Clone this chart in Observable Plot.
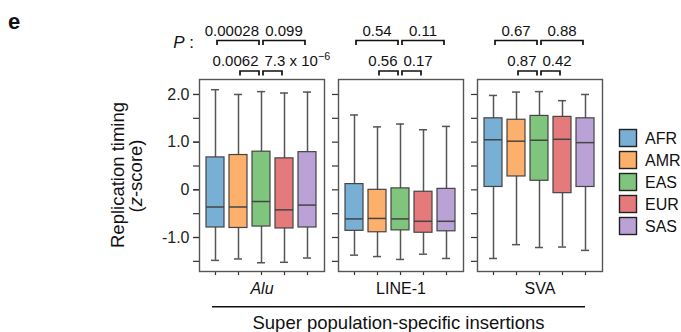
<!DOCTYPE html>
<html><head><meta charset="utf-8">
<script src="https://cdn.jsdelivr.net/npm/d3@7"></script>
<script src="https://cdn.jsdelivr.net/npm/@observablehq/plot@0.6"></script>
<style>
body{margin:0;background:#fff;}
#chart{position:relative;width:681px;height:332px;overflow:hidden;}
#chart svg{font-family:"Liberation Sans",Arial,sans-serif;overflow:visible;}
</style></head><body><div id="chart"></div>
<script>
// ---- data ----
const types = ["Alu", "LINE-1", "SVA"];
const pops = ["AFR", "AMR", "EAS", "EUR", "SAS"];
const colors = ["#78afd4", "#fdb06b", "#80c57e", "#e57a7d", "#bba2d6"];
// rows: Alu, LINE-1, SVA ; columns: AFR, AMR, EAS, EUR, SAS
const whiskerLow  = [[-1.48, -1.45, -1.53, -1.52, -1.43], [-1.37, -1.40, -1.46, -1.35, -1.44], [-1.44, -1.15, -1.21, -1.20, -1.27]];
const q1          = [[-0.79, -0.80, -0.77, -0.81, -0.79], [-0.86, -0.89, -0.85, -0.90, -0.87], [0.06, 0.28, 0.19, -0.07, 0.06]];
const median      = [[-0.36, -0.36, -0.245, -0.42, -0.32], [-0.61, -0.60, -0.61, -0.66, -0.66], [1.05, 1.02, 1.04, 1.06, 0.99]];
const q3          = [[0.68, 0.73, 0.80, 0.66, 0.79], [0.12, 0.00, 0.03, -0.04, 0.02], [1.50, 1.47, 1.55, 1.53, 1.50]];
const whiskerHigh = [[2.10, 2.00, 2.06, 2.03, 2.05], [1.57, 1.32, 1.38, 1.26, 1.33], [1.98, 2.05, 2.06, 1.87, 2.00]];
const yTicks = [-1.5, -1, -0.5, 0, 0.5, 1, 1.5, 2];
const yLabelTicks = [-1, 0, 1, 2];
const yTickLabels = ["-1.0", "0", "1.0", "2.0"];
const topPairs = [["AFR", "EAS"], ["EAS", "SAS"]];
const bottomPairs = [["AMR", "EAS"], ["EAS", "EUR"]];
const pTop = [["0.00028", "0.099"], ["0.54", "0.11"], ["0.67", "0.88"]];
const pBottom = [["0.0062", "7.3 x 10^−6"], ["0.56", "0.17"], ["0.87", "0.42"]];

// ---- table ----
const stats = [];
types.forEach((t, i) => pops.forEach((p, j) => stats.push({
  type: t, pop: p, low: whiskerLow[i][j], q1: q1[i][j], med: median[i][j], q3: q3[i][j], high: whiskerHigh[i][j]
})));

const FONT = '"Liberation Sans", Arial, sans-serif';
const plot = Plot.plot({
  width: 681, height: 332,
  marginLeft: 198, marginRight: 78, marginTop: 79, marginBottom: 61,
  style: {fontFamily: FONT, fontSize: "16px", color: "#222", background: "transparent"},
  fx: {domain: types, paddingInner: 0.1, paddingOuter: 0, axis: null, label: null},
  x: {domain: pops, paddingInner: 0.2, paddingOuter: 0.3, label: null},
  y: {domain: [-1.713, 2.314], label: null},
  color: {domain: pops, range: colors},
  marks: [
    Plot.axisY({ticks: yTicks, tickSize: 6, tickFormat: () => "", facetAnchor: null, stroke: "#333", strokeWidth: 1.2, label: null}),
    Plot.axisY({ticks: yLabelTicks, tickSize: 6, tickPadding: 4, tickFormat: d => yTickLabels[yLabelTicks.indexOf(d)], fontSize: 16, stroke: "#333", strokeWidth: 1.2, label: null}),
    Plot.axisX({ticks: pops, tickSize: 4, tickFormat: () => "", stroke: "#333", strokeWidth: 1.2, label: null}),
    Plot.ruleX(stats, {fx: "type", x: "pop", y1: "low", y2: "high", stroke: "#555", strokeWidth: 1.5}),
    Plot.tickY(stats, {fx: "type", x: "pop", y: "low", stroke: "#555", strokeWidth: 1.5, insetLeft: 5, insetRight: 5}),
    Plot.tickY(stats, {fx: "type", x: "pop", y: "high", stroke: "#555", strokeWidth: 1.5, insetLeft: 5, insetRight: 5}),
    Plot.barY(stats, {fx: "type", x: "pop", y1: "q1", y2: "q3", fill: "pop", stroke: "#444", strokeWidth: 1.2}),
    Plot.tickY(stats, {fx: "type", x: "pop", y: "med", stroke: "#444", strokeWidth: 1.5}),
    Plot.frame({stroke: "#555", strokeWidth: 1.4}),
    Plot.text(types.slice(0, 1), {fx: d => d, text: d => d, frameAnchor: "bottom", dy: 22, fontSize: 16, fontStyle: "italic", fill: "#111"}),
    Plot.text(types.slice(1), {fx: d => d, text: d => d, frameAnchor: "bottom", dy: 22, fontSize: 16, fill: "#111"})
  ]
});
document.getElementById("chart").appendChild(plot);

// ---- annotations positioned with Plot's own scales ----
const fxS = plot.scale("fx"), xS = plot.scale("x");
const cx = (t, p) => fxS.apply(t) + xS.apply(p) - xS.range[0] + xS.bandwidth / 2;
const svg = d3.select(plot);
const ann = svg.append("g").attr("font-family", FONT).attr("fill", "#111").attr("text-anchor", "start");

function addText(g, str, x, y, anchor, size) {
  const el = g.append("text").attr("x", x).attr("y", y).attr("text-anchor", anchor).attr("font-size", size);
  const parts = str.split("^");
  el.append("tspan").text(parts[0]);
  if (parts[1]) el.append("tspan").attr("dy", -6).attr("font-size", size * 0.72).text(parts[1]);
  return el;
}
function bracket(x1, x2, yLine, yLeg) {
  ann.append("path").attr("d", `M${x1},${yLeg}V${yLine}H${x2}V${yLeg}`)
    .attr("fill", "none").attr("stroke", "#111").attr("stroke-width", 1.7);
}
types.forEach((t, i) => {
  const eas = cx(t, "EAS");
  // top row
  topPairs.forEach(([a, b], k) => {
    const x1 = cx(t, a) + 2, x2 = cx(t, b) - 2;
    bracket(x1, x2, 40.5, 45);
    const el = addText(ann, pTop[i][k], (x1 + x2) / 2, 35.5, "middle", 15);
    const w = el.node().getComputedTextLength();
    if (k === 0 && (x1 + x2) / 2 + w / 2 > eas - 2) el.attr("text-anchor", "end").attr("x", eas - 2);
    if (k === 1 && (x1 + x2) / 2 - w / 2 < eas + 4) el.attr("text-anchor", "start").attr("x", eas + 4);
  });
  // bottom row
  bottomPairs.forEach(([a, b], k) => {
    const x1 = cx(t, a) + 2, x2 = cx(t, b) - 2;
    bracket(x1, x2, 71, 75.5);
    addText(ann, pBottom[i][k], k === 0 ? eas - 2.5 : eas + 3.5, 65.5, k === 0 ? "end" : "start", 15);
  });
});
// "P :"
const pl = ann.append("text").attr("x", 194).attr("y", 47.5).attr("text-anchor", "end").attr("font-size", 17);
pl.append("tspan").attr("font-style", "italic").text("P");
pl.append("tspan").text(" :");

// panel letter
ann.append("text").attr("x", 8).attr("y", 29).attr("text-anchor", "start").attr("font-size", 22).attr("font-weight", "bold").text("e");

// y-axis title
const yt = ann.append("g").attr("font-size", 18.5).attr("text-anchor", "middle");
yt.append("text").attr("transform", "translate(123.5,175) rotate(-90)").text("Replication timing");
const zl = yt.append("text").attr("transform", "translate(142,176) rotate(-90)");
zl.append("tspan").text("(");
zl.append("tspan").attr("font-style", "italic").text("z");
zl.append("tspan").text("-score)");

// group line and title
const gx1 = cx(types[0], pops[0]) - 3, gx2 = cx(types[2], pops[4]);
ann.append("line").attr("x1", gx1).attr("x2", gx2).attr("y1", 306.7).attr("y2", 306.7)
  .attr("stroke", "#111").attr("stroke-width", 1.5);
ann.append("text").attr("x", (gx1 + gx2) / 2).attr("y", 328.5).attr("text-anchor", "middle")
  .attr("font-size", 18.5).text("Super population-specific insertions");

// legend
const lg = ann.append("g").attr("font-size", 16).attr("text-anchor", "start");
pops.forEach((p, i) => {
  const y0 = 129.5 + i * 22;
  lg.append("rect").attr("x", 619.5).attr("y", y0).attr("width", 17).attr("height", 17)
    .attr("fill", plot.scale("color").apply(p)).attr("stroke", "#222").attr("stroke-width", 1.4);
  lg.append("text").attr("x", 645).attr("y", y0 + 14.3).attr("text-anchor", "start").text(p);
});
</script></body></html>
